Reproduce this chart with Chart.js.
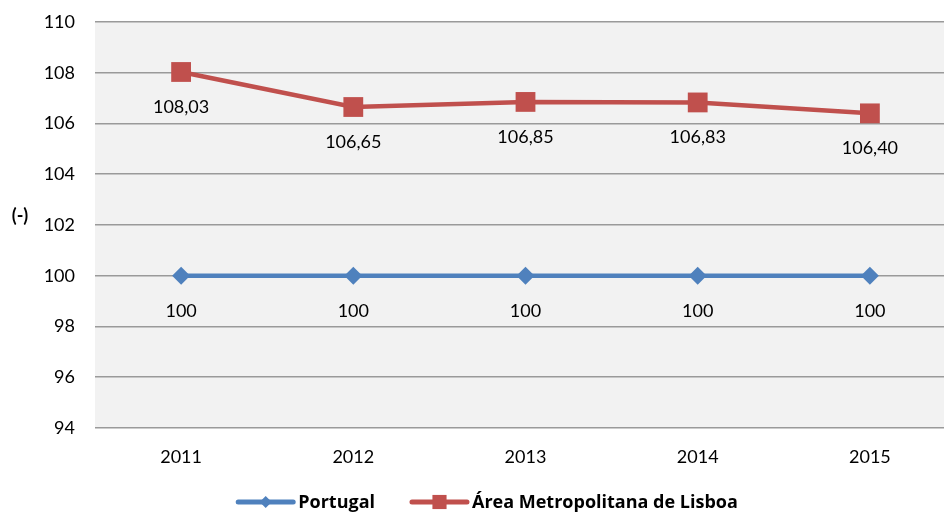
<!DOCTYPE html>
<html>
<head>
<meta charset="utf-8">
<script src="https://cdn.jsdelivr.net/npm/chart.js@4"></script>
<style>
  html, body { margin: 0; padding: 0; background: #fff; overflow: hidden; }
  #wrap { width: 944px; height: 516px; overflow: hidden; }
  #box { width: 970px; height: 516px; }
</style>
</head>
<body>
<div id="wrap"><div id="box"><canvas id="chart"></canvas></div></div>
<script>
const years = ['2011', '2012', '2013', '2014', '2015'];
const portugal = [100, 100, 100, 100, 100];
const lisboa = [108.03, 106.65, 106.85, 106.83, 106.40];
const yMin = 94, yMax = 110, yStep = 2;
const yTitle = '(-)';

const FONT = 'Lato, "Open Sans", sans-serif';
const LEGEND_FONT = '"Open Sans", Lato, sans-serif';
const BLUE = '#4F81BD';
const RED = '#C0504D';

// grey plot background
const plotBg = {
  id: 'plotBg',
  beforeDraw(chart) {
    const a = chart.chartArea, ctx = chart.ctx;
    ctx.save();
    ctx.fillStyle = '#F2F2F2';
    ctx.fillRect(a.left, a.top, a.right - a.left, a.bottom - a.top);
    ctx.restore();
  }
};

// value labels under points, axis title and legend
const extras = {
  id: 'extras',
  afterDatasetsDraw(chart) {
    const ctx = chart.ctx;
    ctx.save();
    ctx.font = '18px ' + FONT;
    ctx.fillStyle = '#000';
    ctx.textAlign = 'center';
    ctx.textBaseline = 'middle';
    chart.data.datasets.forEach((ds, i) => {
      chart.getDatasetMeta(i).data.forEach((pt, j) => {
        const v = ds.data[j];
        const txt = Number.isInteger(v) ? String(v) : v.toFixed(2).replace('.', ',');
        ctx.fillText(txt, pt.x, pt.y + 35);
      });
    });

    ctx.font = 'bold 18px ' + FONT;
    ctx.fillText(yTitle, 20, 216);

    // legend: line + marker + bold label
    ctx.font = 'bold 18px ' + LEGEND_FONT;
    const lineLen = 55, gapText = 5, gapItem = 37;
    const items = chart.data.datasets.map(ds => ({
      ds, w: lineLen + gapText + ctx.measureText(ds.label).width
    }));
    const total = items.reduce((s, it) => s + it.w, 0) + gapItem * (items.length - 1);
    let x = chart.width / 2 + 3 - total / 2;
    const y = 502;
    items.forEach(it => {
      const ds = it.ds;
      ctx.strokeStyle = ds.borderColor;
      ctx.lineWidth = 5;
      ctx.lineCap = 'round';
      ctx.beginPath();
      ctx.moveTo(x, y);
      ctx.lineTo(x + lineLen, y);
      ctx.stroke();
      ctx.fillStyle = ds.borderColor;
      Chart.helpers.drawPoint(ctx, {
        pointStyle: ds.pointStyle,
        radius: ds.pointStyle === 'rect' ? 10 : 6,
        borderWidth: 0
      }, x + lineLen / 2, y);
      ctx.fillStyle = '#000';
      ctx.textAlign = 'left';
      ctx.fillText(ds.label, x + lineLen + gapText, y + 1);
      x += it.w + gapItem;
    });
    ctx.restore();
  }
};

new Chart(document.getElementById('chart'), {
  type: 'line',
  data: {
    labels: years,
    datasets: [
      {
        label: 'Portugal',
        data: portugal,
        borderColor: BLUE,
        backgroundColor: BLUE,
        borderWidth: 4.5,
        pointStyle: 'rectRot',
        pointRadius: 9,
        pointHoverRadius: 9,
        pointBorderWidth: 0,
        tension: 0
      },
      {
        label: 'Área Metropolitana de Lisboa',
        data: lisboa,
        borderColor: RED,
        backgroundColor: RED,
        borderWidth: 4.5,
        pointStyle: 'rect',
        pointRadius: 14,
        pointHoverRadius: 14,
        pointBorderWidth: 0,
        tension: 0
      }
    ]
  },
  options: {
    responsive: true,
    maintainAspectRatio: false,
    animation: false,
    layout: { autoPadding: false, padding: { top: 22, bottom: 38, left: 0, right: 14 } },
    plugins: {
      legend: { display: false },
      tooltip: { enabled: false }
    },
    scales: {
      x: {
        offset: true,
        grid: { display: false, drawTicks: false },
        border: { display: false },
        ticks: { color: '#000', font: { family: FONT, size: 18 }, padding: 18 },
        afterFit(scale) { scale.height = 50; }
      },
      y: {
        min: yMin,
        max: yMax,
        grid: { color: '#9A9A9A', lineWidth: 1.6, drawTicks: false },
        border: { display: false },
        ticks: { stepSize: yStep, color: '#000', font: { family: FONT, size: 18 }, padding: 20 },
        afterFit(scale) {
          scale.width = 95;
          scale.paddingTop = 0;
          scale.paddingBottom = 0;
        }
      }
    }
  },
  plugins: [plotBg, extras]
});
</script>
</body>
</html>
